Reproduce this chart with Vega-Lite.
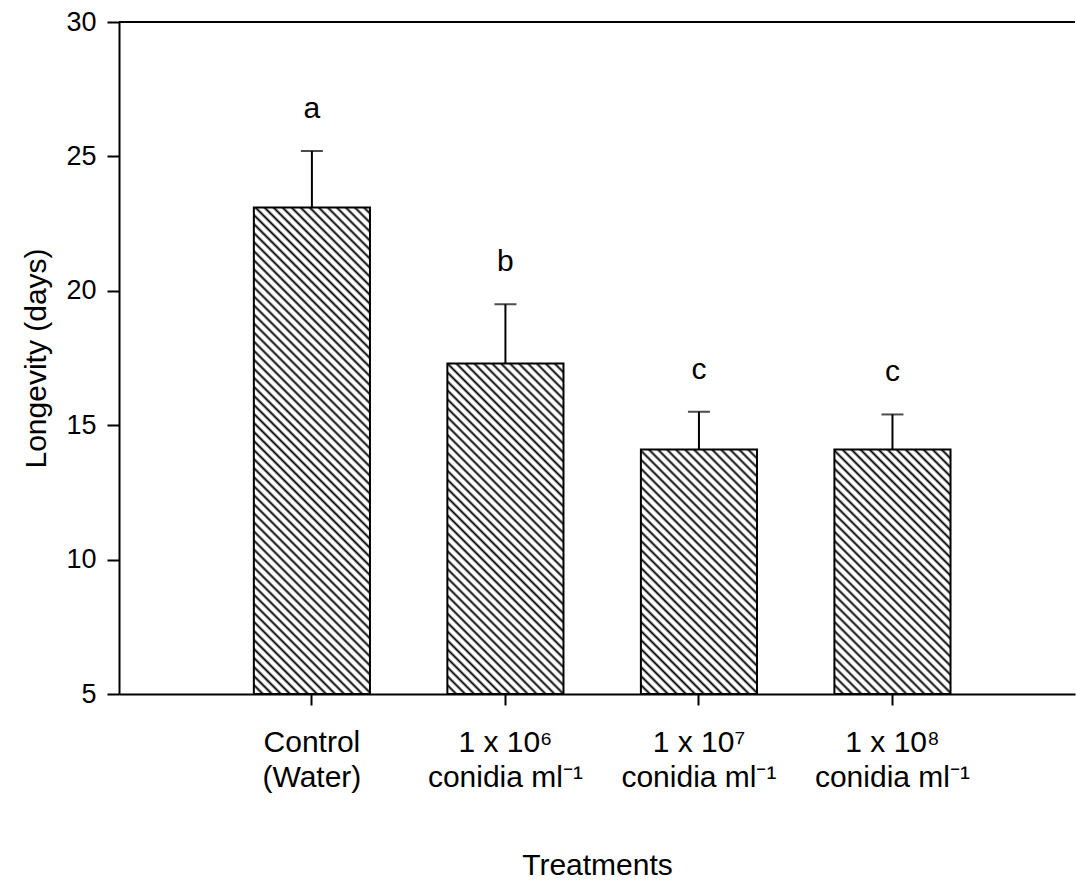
{
  "$schema": "https://vega.github.io/schema/vega-lite/v6.json",
  "width": 956,
  "height": 672,
  "autosize": {"type": "none"},
  "padding": {"left": 119, "top": 22, "right": 1, "bottom": 189},
  "background": "white",
  "config": {
    "font": "Liberation Sans",
    "view": {"stroke": null},
    "axis": {"grid": false, "domainColor": "#000", "domainWidth": 2, "tickColor": "#000", "tickWidth": 2, "labelColor": "#000", "titleColor": "#000", "titleFontWeight": "normal"}
  },
  "data": {
    "values": [
      {"treatment": "Control|(Water)", "longevity": 23.1, "se": 2.1, "group": "a"},
      {"treatment": "1 x 10⁶|conidia ml⁻¹", "longevity": 17.3, "se": 2.2, "group": "b"},
      {"treatment": "1 x 10⁷|conidia ml⁻¹", "longevity": 14.1, "se": 1.4, "group": "c"},
      {"treatment": "1 x 10⁸|conidia ml⁻¹", "longevity": 14.1, "se": 1.3, "group": "c"}
    ]
  },
  "transform": [{"calculate": "datum.longevity + datum.se", "as": "upper"}],
  "layer": [
    {
      "encoding": {
        "x": {
          "field": "treatment",
          "type": "nominal",
          "sort": null,
          "scale": {"paddingInner": 0.4, "paddingOuter": 0.67, "align": 0.52},
          "axis": {
            "title": "Treatments",
            "titleFontSize": 30,
            "titlePadding": 58,
            "labelExpr": "split(datum.label, '|')",
            "labelAngle": 0,
            "labelFontSize": 30,
            "labelLineHeight": 35,
            "labelBaseline": "top",
            "labelPadding": 22,
            "tickSize": 11
          }
        }
      },
      "layer": [
        {
          "mark": {"type": "bar", "stroke": "#000", "strokeWidth": 2},
          "encoding": {
            "y": {
              "field": "longevity",
              "type": "quantitative",
              "scale": {"domain": [5, 30], "nice": false, "zero": false},
              "axis": {"title": "Longevity (days)", "titleFontSize": 30, "titlePadding": 14, "values": [5, 10, 15, 20, 25, 30], "labelFontSize": 27, "labelPadding": 11, "tickSize": 12}
            },
            "y2": {"datum": 5},
            "fill": {
              "condition": [
                {"test": "datum.group === 'a'", "value": {"gradient": "linear", "x1": 0, "y1": 1, "x2": 0.2797, "y2": -0.1719, "stops": [
                  {"offset":0,"color":"#000"},{"offset":0.0045,"color":"#fff"},{"offset":0.0105,"color":"#fff"},
                  {"offset":0.015,"color":"#000"},{"offset":0.0195,"color":"#fff"},{"offset":0.0255,"color":"#fff"},
                  {"offset":0.03,"color":"#000"},{"offset":0.0345,"color":"#fff"},{"offset":0.0405,"color":"#fff"},
                  {"offset":0.045,"color":"#000"},{"offset":0.0495,"color":"#fff"},{"offset":0.0555,"color":"#fff"},
                  {"offset":0.06,"color":"#000"},{"offset":0.0645,"color":"#fff"},{"offset":0.0705,"color":"#fff"},
                  {"offset":0.075,"color":"#000"},{"offset":0.0795,"color":"#fff"},{"offset":0.0855,"color":"#fff"},
                  {"offset":0.09,"color":"#000"},{"offset":0.0945,"color":"#fff"},{"offset":0.1005,"color":"#fff"},
                  {"offset":0.105,"color":"#000"},{"offset":0.1095,"color":"#fff"},{"offset":0.1155,"color":"#fff"},
                  {"offset":0.12,"color":"#000"},{"offset":0.1245,"color":"#fff"},{"offset":0.1305,"color":"#fff"},
                  {"offset":0.135,"color":"#000"},{"offset":0.1395,"color":"#fff"},{"offset":0.1455,"color":"#fff"},
                  {"offset":0.15,"color":"#000"},{"offset":0.1545,"color":"#fff"},{"offset":0.1605,"color":"#fff"},
                  {"offset":0.165,"color":"#000"},{"offset":0.1695,"color":"#fff"},{"offset":0.1755,"color":"#fff"},
                  {"offset":0.18,"color":"#000"},{"offset":0.1845,"color":"#fff"},{"offset":0.1905,"color":"#fff"},
                  {"offset":0.195,"color":"#000"},{"offset":0.1995,"color":"#fff"},{"offset":0.2055,"color":"#fff"},
                  {"offset":0.21,"color":"#000"},{"offset":0.2145,"color":"#fff"},{"offset":0.2205,"color":"#fff"},
                  {"offset":0.225,"color":"#000"},{"offset":0.2295,"color":"#fff"},{"offset":0.2355,"color":"#fff"},
                  {"offset":0.24,"color":"#000"},{"offset":0.2445,"color":"#fff"},{"offset":0.2505,"color":"#fff"},
                  {"offset":0.255,"color":"#000"},{"offset":0.2595,"color":"#fff"},{"offset":0.2655,"color":"#fff"},
                  {"offset":0.27,"color":"#000"},{"offset":0.2745,"color":"#fff"},{"offset":0.2805,"color":"#fff"},
                  {"offset":0.285,"color":"#000"},{"offset":0.2895,"color":"#fff"},{"offset":0.2955,"color":"#fff"},
                  {"offset":0.3,"color":"#000"},{"offset":0.3045,"color":"#fff"},{"offset":0.3105,"color":"#fff"},
                  {"offset":0.315,"color":"#000"},{"offset":0.3195,"color":"#fff"},{"offset":0.3255,"color":"#fff"},
                  {"offset":0.33,"color":"#000"},{"offset":0.3345,"color":"#fff"},{"offset":0.3405,"color":"#fff"},
                  {"offset":0.345,"color":"#000"},{"offset":0.3495,"color":"#fff"},{"offset":0.3555,"color":"#fff"},
                  {"offset":0.36,"color":"#000"},{"offset":0.3645,"color":"#fff"},{"offset":0.3705,"color":"#fff"},
                  {"offset":0.375,"color":"#000"},{"offset":0.3795,"color":"#fff"},{"offset":0.3855,"color":"#fff"},
                  {"offset":0.39,"color":"#000"},{"offset":0.3945,"color":"#fff"},{"offset":0.4005,"color":"#fff"},
                  {"offset":0.405,"color":"#000"},{"offset":0.4095,"color":"#fff"},{"offset":0.4155,"color":"#fff"},
                  {"offset":0.42,"color":"#000"},{"offset":0.4245,"color":"#fff"},{"offset":0.4305,"color":"#fff"},
                  {"offset":0.435,"color":"#000"},{"offset":0.4395,"color":"#fff"},{"offset":0.4455,"color":"#fff"},
                  {"offset":0.45,"color":"#000"},{"offset":0.4545,"color":"#fff"},{"offset":0.4605,"color":"#fff"},
                  {"offset":0.465,"color":"#000"},{"offset":0.4695,"color":"#fff"},{"offset":0.4755,"color":"#fff"},
                  {"offset":0.48,"color":"#000"},{"offset":0.4845,"color":"#fff"},{"offset":0.4905,"color":"#fff"},
                  {"offset":0.495,"color":"#000"},{"offset":0.4995,"color":"#fff"},{"offset":0.5055,"color":"#fff"},
                  {"offset":0.51,"color":"#000"},{"offset":0.5145,"color":"#fff"},{"offset":0.5205,"color":"#fff"},
                  {"offset":0.525,"color":"#000"},{"offset":0.5295,"color":"#fff"},{"offset":0.5355,"color":"#fff"},
                  {"offset":0.54,"color":"#000"},{"offset":0.5445,"color":"#fff"},{"offset":0.5505,"color":"#fff"},
                  {"offset":0.555,"color":"#000"},{"offset":0.5595,"color":"#fff"},{"offset":0.5655,"color":"#fff"},
                  {"offset":0.57,"color":"#000"},{"offset":0.5745,"color":"#fff"},{"offset":0.5805,"color":"#fff"},
                  {"offset":0.585,"color":"#000"},{"offset":0.5895,"color":"#fff"},{"offset":0.5955,"color":"#fff"},
                  {"offset":0.6,"color":"#000"},{"offset":0.6045,"color":"#fff"},{"offset":0.6105,"color":"#fff"},
                  {"offset":0.615,"color":"#000"},{"offset":0.6195,"color":"#fff"},{"offset":0.6255,"color":"#fff"},
                  {"offset":0.63,"color":"#000"},{"offset":0.6345,"color":"#fff"},{"offset":0.6405,"color":"#fff"},
                  {"offset":0.645,"color":"#000"},{"offset":0.6495,"color":"#fff"},{"offset":0.6555,"color":"#fff"},
                  {"offset":0.66,"color":"#000"},{"offset":0.6645,"color":"#fff"},{"offset":0.6705,"color":"#fff"},
                  {"offset":0.675,"color":"#000"},{"offset":0.6795,"color":"#fff"},{"offset":0.6855,"color":"#fff"},
                  {"offset":0.69,"color":"#000"},{"offset":0.6945,"color":"#fff"},{"offset":0.7005,"color":"#fff"},
                  {"offset":0.705,"color":"#000"},{"offset":0.7095,"color":"#fff"},{"offset":0.7155,"color":"#fff"},
                  {"offset":0.72,"color":"#000"},{"offset":0.7245,"color":"#fff"},{"offset":0.7305,"color":"#fff"},
                  {"offset":0.735,"color":"#000"},{"offset":0.7395,"color":"#fff"},{"offset":0.7455,"color":"#fff"},
                  {"offset":0.75,"color":"#000"},{"offset":0.7545,"color":"#fff"},{"offset":0.7605,"color":"#fff"},
                  {"offset":0.765,"color":"#000"},{"offset":0.7695,"color":"#fff"},{"offset":0.7755,"color":"#fff"},
                  {"offset":0.78,"color":"#000"},{"offset":0.7845,"color":"#fff"},{"offset":0.7905,"color":"#fff"},
                  {"offset":0.795,"color":"#000"},{"offset":0.7995,"color":"#fff"},{"offset":0.8055,"color":"#fff"},
                  {"offset":0.81,"color":"#000"},{"offset":0.8145,"color":"#fff"},{"offset":0.8205,"color":"#fff"},
                  {"offset":0.825,"color":"#000"},{"offset":0.8295,"color":"#fff"},{"offset":0.8355,"color":"#fff"},
                  {"offset":0.84,"color":"#000"},{"offset":0.8445,"color":"#fff"},{"offset":0.8505,"color":"#fff"},
                  {"offset":0.855,"color":"#000"},{"offset":0.8595,"color":"#fff"},{"offset":0.8655,"color":"#fff"},
                  {"offset":0.87,"color":"#000"},{"offset":0.8745,"color":"#fff"},{"offset":0.8805,"color":"#fff"},
                  {"offset":0.885,"color":"#000"},{"offset":0.8895,"color":"#fff"},{"offset":0.8955,"color":"#fff"},
                  {"offset":0.9,"color":"#000"},{"offset":0.9045,"color":"#fff"},{"offset":0.9105,"color":"#fff"},
                  {"offset":0.915,"color":"#000"},{"offset":0.9195,"color":"#fff"},{"offset":0.9255,"color":"#fff"},
                  {"offset":0.93,"color":"#000"},{"offset":0.9345,"color":"#fff"},{"offset":0.9405,"color":"#fff"},
                  {"offset":0.945,"color":"#000"},{"offset":0.9495,"color":"#fff"},{"offset":0.9555,"color":"#fff"},
                  {"offset":0.96,"color":"#000"},{"offset":0.9645,"color":"#fff"},{"offset":0.9705,"color":"#fff"},
                  {"offset":0.975,"color":"#000"},{"offset":0.9795,"color":"#fff"},{"offset":0.9855,"color":"#fff"},
                  {"offset":0.99,"color":"#000"},{"offset":0.9945,"color":"#fff"},{"offset":1,"color":"#fff"}
                ]}},
                {"test": "datum.group === 'b'", "value": {"gradient": "linear", "x1": 0, "y1": 1, "x2": 0.4224, "y2": -0.2028, "stops": [
                  {"offset":0,"color":"#000"},{"offset":0.006,"color":"#fff"},{"offset":0.014,"color":"#fff"},
                  {"offset":0.02,"color":"#000"},{"offset":0.026,"color":"#fff"},{"offset":0.034,"color":"#fff"},
                  {"offset":0.04,"color":"#000"},{"offset":0.046,"color":"#fff"},{"offset":0.054,"color":"#fff"},
                  {"offset":0.06,"color":"#000"},{"offset":0.066,"color":"#fff"},{"offset":0.074,"color":"#fff"},
                  {"offset":0.08,"color":"#000"},{"offset":0.086,"color":"#fff"},{"offset":0.094,"color":"#fff"},
                  {"offset":0.1,"color":"#000"},{"offset":0.106,"color":"#fff"},{"offset":0.114,"color":"#fff"},
                  {"offset":0.12,"color":"#000"},{"offset":0.126,"color":"#fff"},{"offset":0.134,"color":"#fff"},
                  {"offset":0.14,"color":"#000"},{"offset":0.146,"color":"#fff"},{"offset":0.154,"color":"#fff"},
                  {"offset":0.16,"color":"#000"},{"offset":0.166,"color":"#fff"},{"offset":0.174,"color":"#fff"},
                  {"offset":0.18,"color":"#000"},{"offset":0.186,"color":"#fff"},{"offset":0.194,"color":"#fff"},
                  {"offset":0.2,"color":"#000"},{"offset":0.206,"color":"#fff"},{"offset":0.214,"color":"#fff"},
                  {"offset":0.22,"color":"#000"},{"offset":0.226,"color":"#fff"},{"offset":0.234,"color":"#fff"},
                  {"offset":0.24,"color":"#000"},{"offset":0.246,"color":"#fff"},{"offset":0.254,"color":"#fff"},
                  {"offset":0.26,"color":"#000"},{"offset":0.266,"color":"#fff"},{"offset":0.274,"color":"#fff"},
                  {"offset":0.28,"color":"#000"},{"offset":0.286,"color":"#fff"},{"offset":0.294,"color":"#fff"},
                  {"offset":0.3,"color":"#000"},{"offset":0.306,"color":"#fff"},{"offset":0.314,"color":"#fff"},
                  {"offset":0.32,"color":"#000"},{"offset":0.326,"color":"#fff"},{"offset":0.334,"color":"#fff"},
                  {"offset":0.34,"color":"#000"},{"offset":0.346,"color":"#fff"},{"offset":0.354,"color":"#fff"},
                  {"offset":0.36,"color":"#000"},{"offset":0.366,"color":"#fff"},{"offset":0.374,"color":"#fff"},
                  {"offset":0.38,"color":"#000"},{"offset":0.386,"color":"#fff"},{"offset":0.394,"color":"#fff"},
                  {"offset":0.4,"color":"#000"},{"offset":0.406,"color":"#fff"},{"offset":0.414,"color":"#fff"},
                  {"offset":0.42,"color":"#000"},{"offset":0.426,"color":"#fff"},{"offset":0.434,"color":"#fff"},
                  {"offset":0.44,"color":"#000"},{"offset":0.446,"color":"#fff"},{"offset":0.454,"color":"#fff"},
                  {"offset":0.46,"color":"#000"},{"offset":0.466,"color":"#fff"},{"offset":0.474,"color":"#fff"},
                  {"offset":0.48,"color":"#000"},{"offset":0.486,"color":"#fff"},{"offset":0.494,"color":"#fff"},
                  {"offset":0.5,"color":"#000"},{"offset":0.506,"color":"#fff"},{"offset":0.514,"color":"#fff"},
                  {"offset":0.52,"color":"#000"},{"offset":0.526,"color":"#fff"},{"offset":0.534,"color":"#fff"},
                  {"offset":0.54,"color":"#000"},{"offset":0.546,"color":"#fff"},{"offset":0.554,"color":"#fff"},
                  {"offset":0.56,"color":"#000"},{"offset":0.566,"color":"#fff"},{"offset":0.574,"color":"#fff"},
                  {"offset":0.58,"color":"#000"},{"offset":0.586,"color":"#fff"},{"offset":0.594,"color":"#fff"},
                  {"offset":0.6,"color":"#000"},{"offset":0.606,"color":"#fff"},{"offset":0.614,"color":"#fff"},
                  {"offset":0.62,"color":"#000"},{"offset":0.626,"color":"#fff"},{"offset":0.634,"color":"#fff"},
                  {"offset":0.64,"color":"#000"},{"offset":0.646,"color":"#fff"},{"offset":0.654,"color":"#fff"},
                  {"offset":0.66,"color":"#000"},{"offset":0.666,"color":"#fff"},{"offset":0.674,"color":"#fff"},
                  {"offset":0.68,"color":"#000"},{"offset":0.686,"color":"#fff"},{"offset":0.694,"color":"#fff"},
                  {"offset":0.7,"color":"#000"},{"offset":0.706,"color":"#fff"},{"offset":0.714,"color":"#fff"},
                  {"offset":0.72,"color":"#000"},{"offset":0.726,"color":"#fff"},{"offset":0.734,"color":"#fff"},
                  {"offset":0.74,"color":"#000"},{"offset":0.746,"color":"#fff"},{"offset":0.754,"color":"#fff"},
                  {"offset":0.76,"color":"#000"},{"offset":0.766,"color":"#fff"},{"offset":0.774,"color":"#fff"},
                  {"offset":0.78,"color":"#000"},{"offset":0.786,"color":"#fff"},{"offset":0.794,"color":"#fff"},
                  {"offset":0.8,"color":"#000"},{"offset":0.806,"color":"#fff"},{"offset":0.814,"color":"#fff"},
                  {"offset":0.82,"color":"#000"},{"offset":0.826,"color":"#fff"},{"offset":0.834,"color":"#fff"},
                  {"offset":0.84,"color":"#000"},{"offset":0.846,"color":"#fff"},{"offset":0.854,"color":"#fff"},
                  {"offset":0.86,"color":"#000"},{"offset":0.866,"color":"#fff"},{"offset":0.874,"color":"#fff"},
                  {"offset":0.88,"color":"#000"},{"offset":0.886,"color":"#fff"},{"offset":0.894,"color":"#fff"},
                  {"offset":0.9,"color":"#000"},{"offset":0.906,"color":"#fff"},{"offset":0.914,"color":"#fff"},
                  {"offset":0.92,"color":"#000"},{"offset":0.926,"color":"#fff"},{"offset":0.934,"color":"#fff"},
                  {"offset":0.94,"color":"#000"},{"offset":0.946,"color":"#fff"},{"offset":0.954,"color":"#fff"},
                  {"offset":0.96,"color":"#000"},{"offset":0.966,"color":"#fff"},{"offset":0.974,"color":"#fff"},
                  {"offset":0.98,"color":"#000"},{"offset":0.986,"color":"#fff"},{"offset":0.994,"color":"#fff"},
                  {"offset":1,"color":"#000"}
                ]}}
              ],
              "value": {"gradient": "linear", "x1": 0, "y1": 1, "x2": 0.5713, "y2": -0.2035, "stops": [
                {"offset":0,"color":"#000"},{"offset":0.0075,"color":"#fff"},{"offset":0.0175,"color":"#fff"},
                {"offset":0.025,"color":"#000"},{"offset":0.0325,"color":"#fff"},{"offset":0.0425,"color":"#fff"},
                {"offset":0.05,"color":"#000"},{"offset":0.0575,"color":"#fff"},{"offset":0.0675,"color":"#fff"},
                {"offset":0.075,"color":"#000"},{"offset":0.0825,"color":"#fff"},{"offset":0.0925,"color":"#fff"},
                {"offset":0.1,"color":"#000"},{"offset":0.1075,"color":"#fff"},{"offset":0.1175,"color":"#fff"},
                {"offset":0.125,"color":"#000"},{"offset":0.1325,"color":"#fff"},{"offset":0.1425,"color":"#fff"},
                {"offset":0.15,"color":"#000"},{"offset":0.1575,"color":"#fff"},{"offset":0.1675,"color":"#fff"},
                {"offset":0.175,"color":"#000"},{"offset":0.1825,"color":"#fff"},{"offset":0.1925,"color":"#fff"},
                {"offset":0.2,"color":"#000"},{"offset":0.2075,"color":"#fff"},{"offset":0.2175,"color":"#fff"},
                {"offset":0.225,"color":"#000"},{"offset":0.2325,"color":"#fff"},{"offset":0.2425,"color":"#fff"},
                {"offset":0.25,"color":"#000"},{"offset":0.2575,"color":"#fff"},{"offset":0.2675,"color":"#fff"},
                {"offset":0.275,"color":"#000"},{"offset":0.2825,"color":"#fff"},{"offset":0.2925,"color":"#fff"},
                {"offset":0.3,"color":"#000"},{"offset":0.3075,"color":"#fff"},{"offset":0.3175,"color":"#fff"},
                {"offset":0.325,"color":"#000"},{"offset":0.3325,"color":"#fff"},{"offset":0.3425,"color":"#fff"},
                {"offset":0.35,"color":"#000"},{"offset":0.3575,"color":"#fff"},{"offset":0.3675,"color":"#fff"},
                {"offset":0.375,"color":"#000"},{"offset":0.3825,"color":"#fff"},{"offset":0.3925,"color":"#fff"},
                {"offset":0.4,"color":"#000"},{"offset":0.4075,"color":"#fff"},{"offset":0.4175,"color":"#fff"},
                {"offset":0.425,"color":"#000"},{"offset":0.4325,"color":"#fff"},{"offset":0.4425,"color":"#fff"},
                {"offset":0.45,"color":"#000"},{"offset":0.4575,"color":"#fff"},{"offset":0.4675,"color":"#fff"},
                {"offset":0.475,"color":"#000"},{"offset":0.4825,"color":"#fff"},{"offset":0.4925,"color":"#fff"},
                {"offset":0.5,"color":"#000"},{"offset":0.5075,"color":"#fff"},{"offset":0.5175,"color":"#fff"},
                {"offset":0.525,"color":"#000"},{"offset":0.5325,"color":"#fff"},{"offset":0.5425,"color":"#fff"},
                {"offset":0.55,"color":"#000"},{"offset":0.5575,"color":"#fff"},{"offset":0.5675,"color":"#fff"},
                {"offset":0.575,"color":"#000"},{"offset":0.5825,"color":"#fff"},{"offset":0.5925,"color":"#fff"},
                {"offset":0.6,"color":"#000"},{"offset":0.6075,"color":"#fff"},{"offset":0.6175,"color":"#fff"},
                {"offset":0.625,"color":"#000"},{"offset":0.6325,"color":"#fff"},{"offset":0.6425,"color":"#fff"},
                {"offset":0.65,"color":"#000"},{"offset":0.6575,"color":"#fff"},{"offset":0.6675,"color":"#fff"},
                {"offset":0.675,"color":"#000"},{"offset":0.6825,"color":"#fff"},{"offset":0.6925,"color":"#fff"},
                {"offset":0.7,"color":"#000"},{"offset":0.7075,"color":"#fff"},{"offset":0.7175,"color":"#fff"},
                {"offset":0.725,"color":"#000"},{"offset":0.7325,"color":"#fff"},{"offset":0.7425,"color":"#fff"},
                {"offset":0.75,"color":"#000"},{"offset":0.7575,"color":"#fff"},{"offset":0.7675,"color":"#fff"},
                {"offset":0.775,"color":"#000"},{"offset":0.7825,"color":"#fff"},{"offset":0.7925,"color":"#fff"},
                {"offset":0.8,"color":"#000"},{"offset":0.8075,"color":"#fff"},{"offset":0.8175,"color":"#fff"},
                {"offset":0.825,"color":"#000"},{"offset":0.8325,"color":"#fff"},{"offset":0.8425,"color":"#fff"},
                {"offset":0.85,"color":"#000"},{"offset":0.8575,"color":"#fff"},{"offset":0.8675,"color":"#fff"},
                {"offset":0.875,"color":"#000"},{"offset":0.8825,"color":"#fff"},{"offset":0.8925,"color":"#fff"},
                {"offset":0.9,"color":"#000"},{"offset":0.9075,"color":"#fff"},{"offset":0.9175,"color":"#fff"},
                {"offset":0.925,"color":"#000"},{"offset":0.9325,"color":"#fff"},{"offset":0.9425,"color":"#fff"},
                {"offset":0.95,"color":"#000"},{"offset":0.9575,"color":"#fff"},{"offset":0.9675,"color":"#fff"},
                {"offset":0.975,"color":"#000"},{"offset":0.9825,"color":"#fff"},{"offset":0.9925,"color":"#fff"},
                {"offset":1,"color":"#000"}
              ]}
            }
          }
        },
        {
          "mark": {"type": "rule", "color": "#000", "strokeWidth": 2},
          "encoding": {
            "y": {"field": "longevity", "type": "quantitative"},
            "y2": {"field": "upper"}
          }
        },
        {
          "mark": {"type": "tick", "color": "#000", "size": 22, "thickness": 2},
          "encoding": {
            "y": {"field": "upper", "type": "quantitative"}
          }
        },
        {
          "mark": {"type": "text", "fontSize": 30, "baseline": "middle", "dy": -42, "color": "#000"},
          "encoding": {
            "y": {"field": "upper", "type": "quantitative"},
            "text": {"field": "group"}
          }
        }
      ]
    },
    {
      "mark": {"type": "rule", "color": "#000", "strokeWidth": 2},
      "encoding": {
        "y": {"datum": 30, "type": "quantitative"}
      }
    }
  ]
}
